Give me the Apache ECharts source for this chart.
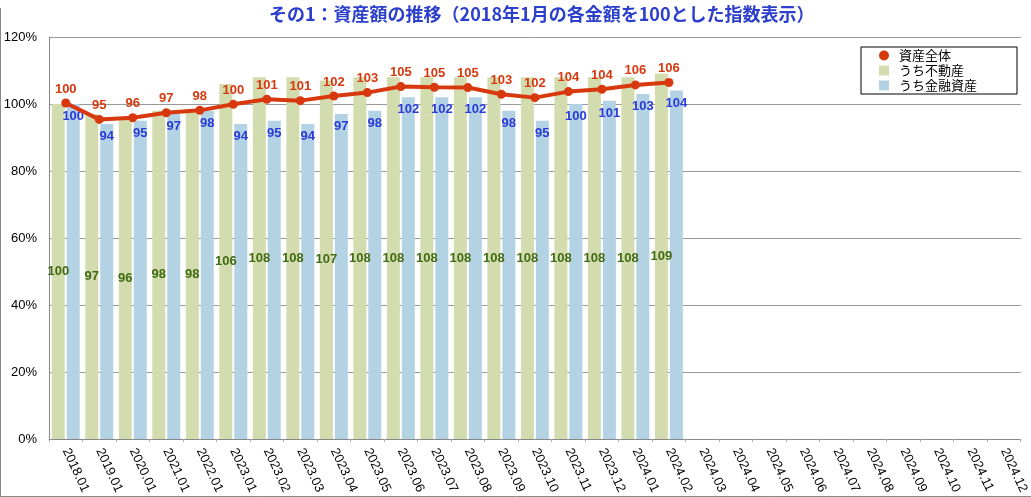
<!DOCTYPE html>
<html>
<head>
<meta charset="utf-8">
<script src="https://cdn.jsdelivr.net/npm/echarts@6/dist/echarts.min.js"></script>
<style>
html,body{margin:0;padding:0;background:#fff;}
#c{width:1031px;height:497px;}
</style>
</head>
<body>
<div id="c"></div>
<script>
const categories = ['2018.01','2019.01','2020.01','2021.01','2022.01','2023.01','2023.02','2023.03','2023.04','2023.05','2023.06','2023.07','2023.08','2023.09','2023.10','2023.11','2023.12','2024.01','2024.02','2024.03','2024.04','2024.05','2024.06','2024.07','2024.08','2024.09','2024.10','2024.11','2024.12'];
const totalAssets = [100.3,95.4,95.9,97.4,98.1,99.9,101.4,101.0,102.4,103.4,105.2,105.0,104.9,102.9,101.9,103.7,104.4,105.7,106.4];
const realEstate = [100,97,96,98,98,106,108,108,107,108,108,108,108,108,108,108,108,108,109];
const financial = [100,94,95,97,98,94,95,94,97,98,102,102,102,98,95,100,101,103,104];
const yTicks = [0,20,40,60,80,100,120];

const chart = echarts.init(document.getElementById('c'));
const fontFam = '"Liberation Sans", Arial, "Noto Sans CJK JP", sans-serif';
chart.setOption({
  animation:false,
  backgroundColor:'#fff',
  textStyle:{fontFamily:fontFam},
  title:{
    text:'その1：資産額の推移（2018年1月の各金額を100とした指数表示）',
    left:264, top:0,
    textStyle:{color:'#2b3fcc',fontSize:18,fontWeight:'bold',fontFamily:'"Noto Sans CJK JP", sans-serif'}
  },
  legend:{
    orient:'vertical', left:861, top:47, width:155,
    padding:[2,40,2,18],
    backgroundColor:'#fff', borderColor:'#000', borderWidth:1,
    itemGap:2, itemWidth:10, itemHeight:10,
    textStyle:{fontSize:13,color:'#000',padding:[0,0,0,5],fontFamily:'"Noto Sans CJK JP", sans-serif'},
    data:[{name:'資産全体',icon:'circle'},{name:'うち不動産',icon:'rect'},{name:'うち金融資産',icon:'rect'}]
  },
  grid:{left:49,right:10,top:37,bottom:58},
  xAxis:{
    type:'category', data:categories,
    axisLine:{show:true,lineStyle:{color:'#888'}},
    axisTick:{show:true,length:3,lineStyle:{color:'#aaa'}},
    axisLabel:{rotate:-65,fontSize:13,color:'#000',interval:0,margin:10}
  },
  yAxis:{
    type:'value', min:0, max:120, interval:20,
    axisLine:{show:true,lineStyle:{color:'#888'}},
    axisTick:{show:false},
    splitLine:{lineStyle:{color:'#999',width:1}},
    axisLabel:{formatter:function(v){return yTicks.indexOf(v)>=0? v+'%':'';},fontSize:13,color:'#000',margin:12}
  },
  series:[
    {
      name:'うち不動産', type:'bar', data:realEstate, barWidth:13, barGap:'15%',
      itemStyle:{color:'#d3dcae'},
      label:{show:true,position:'inside',color:'#3f6b12',fontWeight:'bold',fontSize:13},
      z:2
    },
    {
      name:'うち金融資産', type:'bar', data:financial, barWidth:13, barGap:'15%',
      itemStyle:{color:'#b3d3e5'},
      label:{show:true,position:'insideTop',distance:6,color:'#2a3ad6',fontWeight:'bold',fontSize:13},
      z:2
    },
    {
      name:'資産全体', type:'line', data:totalAssets,
      symbol:'circle', symbolSize:9,
      lineStyle:{color:'#d8380e',width:4},
      itemStyle:{color:'#d8380e'},
      label:{show:true,position:'top',distance:3,color:'#d8380e',fontWeight:'bold',fontSize:13,
        formatter:function(p){return Math.round(p.value);}},
      z:5
    }
  ],
  graphic:[
    {type:'line',shape:{x1:0.5,y1:8,x2:0.5,y2:496},style:{stroke:'#888',lineWidth:1}},
    {type:'line',shape:{x1:0,y1:496.5,x2:1031,y2:496.5},style:{stroke:'#888',lineWidth:1}}
  ]
});
</script>
</body>
</html>
